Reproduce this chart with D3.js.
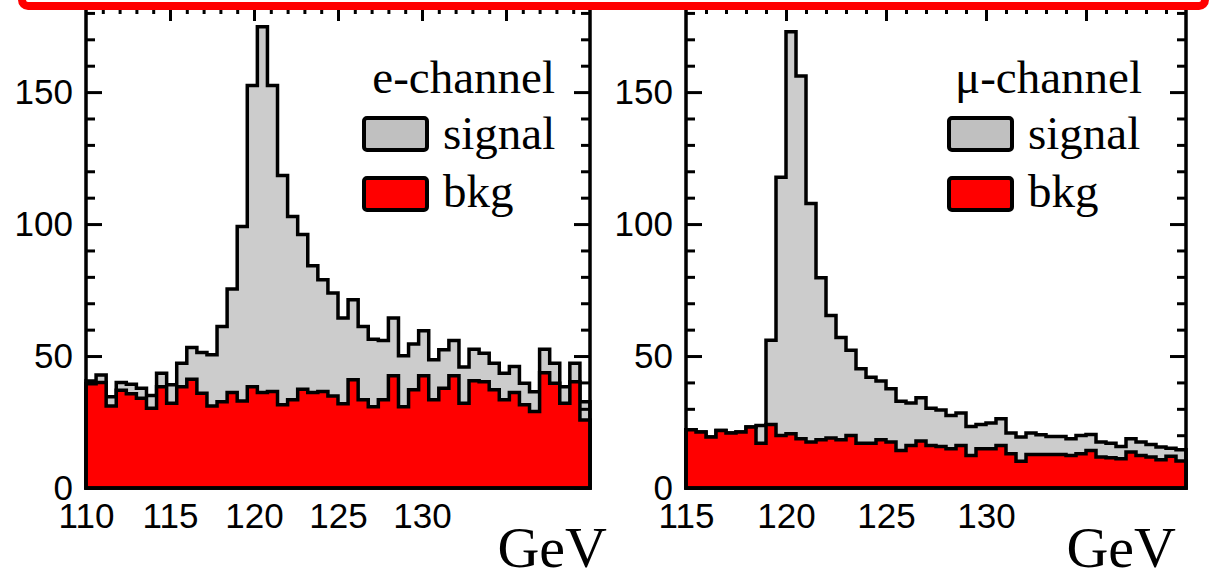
<!DOCTYPE html>
<html><head><meta charset="utf-8">
<script src="https://cdn.jsdelivr.net/npm/d3@7"></script>
<style>html,body{margin:0;padding:0;background:#fff;overflow:hidden}svg{display:block}</style>
</head><body>
<svg id="c" width="1209" height="573"></svg>
<script>
// ---------- DATA ----------
const eBinLow = [110.0,110.6,111.2,111.8,112.4,113.0,113.6,114.2,114.8,115.4,116.0,116.6,117.2,117.8,118.4,119.0,119.6,120.2,120.8,121.4,122.0,122.6,123.2,123.8,124.4,125.0,125.6,126.2,126.8,127.4,128.0,128.6,129.2,129.8,130.4,131.0,131.6,132.2,132.8,133.4,134.0,134.6,135.2,135.8,136.4,137.0,137.6,138.2,138.8,139.4];
const eBinWidth = 0.6;
const eSignal = [40.5,42.8,34.6,40.0,39.3,37.8,35.0,43.5,39.1,47.3,53.2,51.3,50.5,61.2,75.4,99.1,152.5,174.8,152.5,118.4,102.9,96.0,84.2,78.9,73.9,64.4,71.3,61.2,56.4,55.9,64.4,50.1,54.6,59.6,48.6,52.4,55.9,45.8,52.6,51.1,47.3,43.5,46.0,39.7,36.5,52.6,47.3,38.4,47.3,32.7];
const eBkg = [39.5,40.0,31.1,37.0,35.7,34.0,30.2,38.4,32.1,38.4,41.2,35.9,31.1,32.7,36.2,33.0,38.4,36.2,36.6,31.5,33.4,37.4,36.2,36.6,34.9,31.9,41.0,33.4,30.8,33.4,42.5,30.8,37.2,42.5,33.4,37.8,42.5,32.1,40.6,40.3,37.2,33.4,36.2,31.5,29.0,43.7,39.7,32.1,40.3,25.8];

const muBinLow = [115.0,115.5,116.0,116.5,117.0,117.5,118.0,118.5,119.0,119.5,120.0,120.5,121.0,121.5,122.0,122.5,123.0,123.5,124.0,124.5,125.0,125.5,126.0,126.5,127.0,127.5,128.0,128.5,129.0,129.5,130.0,130.5,131.0,131.5,132.0,132.5,133.0,133.5,134.0,134.5,135.0,135.5,136.0,136.5,137.0,137.5,138.0,138.5,139.0,139.5];
const muBinWidth = 0.5;
const muSignal = [22.1,21.2,19.3,21.8,20.8,21.2,23.1,23.7,56.0,117.7,172.9,156.1,107.8,79.7,65.4,57.0,52.2,45.2,42.0,40.5,37.6,32.9,32.2,34.2,30.2,29.6,27.5,28.4,23.3,24.1,24.6,26.2,20.8,19.3,20.8,20.2,19.5,19.5,18.7,19.9,20.3,17.4,17.0,15.7,18.7,17.4,16.5,15.5,15.1,14.5];
const muBkg = [22.1,21.2,19.3,21.8,20.8,21.2,23.1,17.0,24.1,19.9,20.6,18.7,17.4,18.3,18.9,18.3,19.9,17.0,17.0,18.3,17.4,14.2,16.1,17.8,16.1,15.7,14.9,16.1,12.3,14.9,14.9,16.1,13.0,10.1,12.7,12.7,12.7,12.7,12.3,13.0,14.2,11.7,11.5,11.1,13.6,12.3,11.7,10.7,12.0,10.2];

const yMajor = [0, 50, 100, 150];
const eXLabels = [110, 115, 120, 125, 130];
const muXLabels = [115, 120, 125, 130];
const eXMajor = [115, 120, 125, 130, 135];
const muXMajor = [120, 125, 130, 135];
const legendLabels = ["signal", "bkg"];

// ---------- LAYOUT ----------
const svg = d3.select("#c");
const yTop = 5, yBot = 488;
const y = d3.scaleLinear().domain([0, 183]).range([yBot, yTop]);
const yMinor = d3.range(10, 181, 10).filter(v => v % 50 !== 0);

const panels = [
  {x0: 86, x1: 590, dom: [110, 140], low: eBinLow, w: eBinWidth, sig: eSignal, bkg: eBkg,
   xlab: eXLabels, xmaj: eXMajor, ylabX: 73, title: "e-channel", titleX: 555, titleAnchor: "end",
   boxX: 364, textX: 443, gevX: 607},
  {x0: 686, x1: 1186, dom: [115, 140], low: muBinLow, w: muBinWidth, sig: muSignal, bkg: muBkg,
   xlab: muXLabels, xmaj: muXMajor, ylabX: 673, title: "\u03bc-channel", titleX: 955, titleAnchor: "start",
   boxX: 949, textX: 1028, gevX: 1176}
];

function histPath(p, vals, x) {
  let d = `M${x(p.low[0])},${y(0)}`;
  vals.forEach((v, i) => {
    d += `L${x(p.low[i])},${y(v)}L${x(p.low[i] + p.w)},${y(v)}`;
  });
  d += `L${x(p.low[p.low.length - 1] + p.w)},${y(0)}Z`;
  return d;
}

const tickFont = "'Liberation Sans', Arial, Helvetica, sans-serif";
const serif = "'Liberation Serif', 'Times New Roman', Times, serif";

panels.forEach(p => {
  const x = d3.scaleLinear().domain(p.dom).range([p.x0, p.x1]);
  const xMinor = d3.range(p.dom[0] + 1, p.dom[1], 1).filter(v => v % 5 !== 0);
  const g = svg.append("g");

  // gray (signal) histogram
  g.append("path").attr("d", histPath(p, p.sig, x))
    .attr("fill", "#cccccc").attr("stroke", "#000").attr("stroke-width", 3.5)
    .attr("stroke-linejoin", "miter");

  // ticks (between the two histograms)
  const tk = g.append("g");
  const addAxis = (gen, tf) => {
    const a = tk.append("g").attr("transform", tf).call(gen);
    a.select(".domain").remove();
    a.selectAll("line").attr("stroke", "#000").attr("stroke-width", 3);
    a.selectAll("text").remove();
  };
  addAxis(d3.axisLeft(y).tickValues(yMajor).tickSize(-16), `translate(${p.x0},0)`);
  addAxis(d3.axisLeft(y).tickValues(yMinor).tickSize(-9), `translate(${p.x0},0)`);
  addAxis(d3.axisRight(y).tickValues(yMajor).tickSize(-16), `translate(${p.x1},0)`);
  addAxis(d3.axisRight(y).tickValues(yMinor).tickSize(-9), `translate(${p.x1},0)`);
  addAxis(d3.axisTop(x).tickValues(p.xmaj).tickSize(-16), `translate(0,${yTop})`);
  addAxis(d3.axisTop(x).tickValues(xMinor).tickSize(-9), `translate(0,${yTop})`);

  // red (bkg) histogram
  g.append("path").attr("d", histPath(p, p.bkg, x))
    .attr("fill", "#ff0000").attr("stroke", "#000").attr("stroke-width", 3.5)
    .attr("stroke-linejoin", "miter");

  // frame
  g.append("rect").attr("x", p.x0).attr("y", yTop).attr("width", p.x1 - p.x0).attr("height", yBot - yTop)
    .attr("fill", "none").attr("stroke", "#000").attr("stroke-width", 3.5);

  // y labels
  const yl = g.append("g").attr("transform", `translate(${p.ylabX},0)`)
    .call(d3.axisLeft(y).tickValues(yMajor).tickSize(0).tickPadding(0).tickFormat(d3.format("d")));
  yl.select(".domain").remove();
  yl.selectAll("text").attr("font-family", tickFont).attr("font-size", 35).attr("fill", "#000");

  // x labels
  const xl = g.append("g").attr("transform", `translate(0,${yBot})`)
    .call(d3.axisBottom(x).tickValues(p.xlab).tickSize(0).tickPadding(0).tickFormat(d3.format("d")));
  xl.select(".domain").remove();
  xl.selectAll("text").attr("font-family", tickFont).attr("font-size", 35).attr("fill", "#000")
    .attr("dy", null).attr("y", 40);

  // GeV
  g.append("text").attr("x", p.gevX).attr("y", 567).attr("text-anchor", "end")
    .attr("font-family", serif).attr("font-size", 58).text("GeV");

  // legend
  g.append("text").attr("x", p.titleX).attr("y", 93).attr("text-anchor", p.titleAnchor)
    .attr("font-family", serif).attr("font-size", 47).text(p.title);
  const fills = ["#c0c0c0", "#ff0000"];
  const boxY = [118, 178];
  const txtY = [149, 207];
  legendLabels.forEach((lab, i) => {
    g.append("rect").attr("x", p.boxX).attr("y", boxY[i]).attr("width", 63).attr("height", 32)
      .attr("rx", 3).attr("fill", fills[i]).attr("stroke", "#000").attr("stroke-width", 4);
    g.append("text").attr("x", p.textX).attr("y", txtY[i])
      .attr("font-family", serif).attr("font-size", 47).text(lab);
  });
});

// red border at top
svg.append("rect").attr("x", 22).attr("y", -60).attr("width", 1183).attr("height", 66)
  .attr("rx", 6).attr("fill", "none").attr("stroke", "#ff0000").attr("stroke-width", 8);
</script>
</body></html>
